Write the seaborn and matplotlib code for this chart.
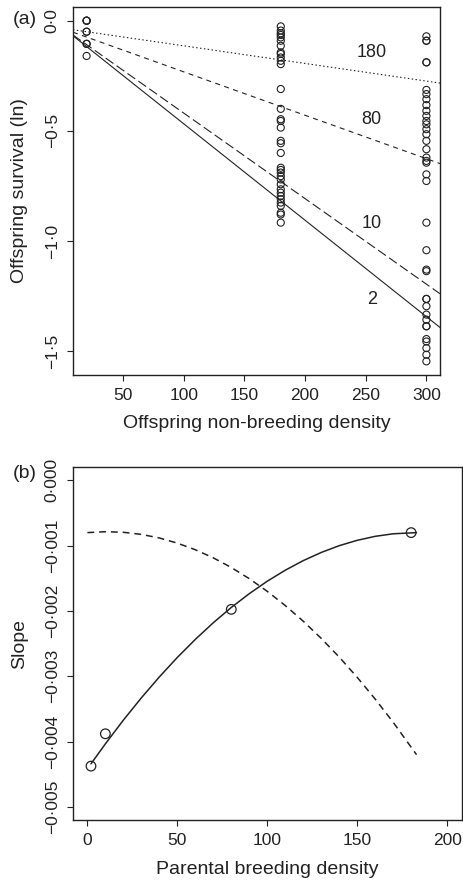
import numpy as np
import pandas as pd
import matplotlib
matplotlib.use("Agg")
import matplotlib.pyplot as plt
import seaborn as sns

# ---------------- data ----------------
# Panel (a): offspring survival (ln) at three offspring non-breeding densities
dens_20_y = [0.0, 0.0, 0.0, -0.05, -0.05, -0.105, -0.105, -0.16]
dens_180_y = [-0.026, -0.045, -0.057, -0.065, -0.076, -0.091, -0.114, -0.144, -0.151,
              -0.167, -0.182, -0.197, -0.31, -0.40, -0.447, -0.455, -0.485, -0.545,
              -0.556, -0.60, -0.667, -0.677, -0.689, -0.705, -0.72, -0.742, -0.765,
              -0.78, -0.795, -0.81, -0.825, -0.84, -0.871, -0.879, -0.916]
dens_300_y = [-0.071, -0.091, -0.091, -0.189, -0.189, -0.314, -0.333, -0.356, -0.383,
              -0.409, -0.432, -0.455, -0.47, -0.492, -0.515, -0.545, -0.583, -0.621,
              -0.636, -0.644, -0.697, -0.727, -0.916, -1.041, -1.129, -1.136, -1.262,
              -1.262, -1.295, -1.333, -1.356, -1.386, -1.386, -1.444, -1.455, -1.485,
              -1.515, -1.545]
densities_a = [20, 180, 300]

# fitted lines for parental breeding densities
line_labels = ["180", "80", "10", "2"]
line_intercepts = [-0.034, -0.035, -0.031, -0.030]
line_slopes = [-0.0008, -0.00197, -0.00388, -0.004375]
label_x = [255, 255, 255, 255]
label_y = [-0.144, -0.447, -0.92, -1.265]

# Panel (b): slope vs parental breeding density
pts_x = [2, 10, 80, 180]
pts_y = [-0.004375, -0.00388, -0.001975, -0.0008]
solid_x = [2, 10, 20, 30, 40, 50, 60, 70, 80, 90, 100, 110, 120, 130, 140, 150, 160, 170, 183]
solid_y = [-0.00434, -0.004034, -0.003671, -0.00333, -0.00301, -0.002711, -0.002435,
           -0.00218, -0.001946, -0.001735, -0.001544, -0.001376, -0.001229, -0.001104,
           -0.0010, -0.000918, -0.000857, -0.000818, -0.0008]
dashed_x = [0, 10, 20, 30, 40, 50, 60, 70, 80, 90, 100, 110, 120, 130, 140, 150, 160, 170, 183]
dashed_y = [-0.0008, -0.000786, -0.000795, -0.000827, -0.000882, -0.000961, -0.001062,
            -0.001186, -0.001334, -0.001505, -0.001699, -0.001916, -0.002156, -0.002419,
            -0.002705, -0.003015, -0.003348, -0.003703, -0.0042]

a_xticks = [50, 100, 150, 200, 250, 300]
a_yticks = [0.0, -0.5, -1.0, -1.5]
a_yticklabels = ["0·0", "−0·5", "−1·0", "−1·5"]
b_xticks = [0, 50, 100, 150, 200]
b_yticks = [0.0, -0.001, -0.002, -0.003, -0.004, -0.005]
b_yticklabels = ["0·000", "−0·001", "−0·002", "−0·003", "−0·004", "−0·005"]

# ---------------- style ----------------
sns.set_theme(style="ticks")
INK = "#222222"
plt.rcParams["font.family"] = ["Liberation Sans", "DejaVu Sans"]
plt.rcParams.update({
    "axes.edgecolor": INK, "axes.linewidth": 1.0,
    "xtick.color": INK, "ytick.color": INK,
    "xtick.labelcolor": INK, "ytick.labelcolor": INK,
    "text.color": INK, "axes.labelcolor": INK,
    "xtick.major.size": 4.5, "ytick.major.size": 4.5,
    "xtick.major.width": 0.8, "ytick.major.width": 0.8,
    "xtick.labelsize": 12.5, "ytick.labelsize": 12.5,
})

W, H = 463, 881
fig = plt.figure(figsize=(W / 100, H / 100), dpi=100)

def rect(l, t, r, b):
    return [l / W, 1 - b / H, (r - l) / W, (b - t) / H]

ax1 = fig.add_axes(rect(73, 7, 440, 375))
ax2 = fig.add_axes(rect(73, 467.3, 461.5, 820))

# ---------------- panel (a) ----------------
df_a = pd.DataFrame({
    "density": [densities_a[0]] * len(dens_20_y) + [densities_a[1]] * len(dens_180_y)
               + [densities_a[2]] * len(dens_300_y),
    "survival": dens_20_y + dens_180_y + dens_300_y,
})
sns.scatterplot(data=df_a, x="density", y="survival", ax=ax1, marker="o", s=26,
                facecolor="none", edgecolor=INK, linewidth=0.8, zorder=3)

styles = [(0, (1.3, 2.2)), (0, (4.5, 4.0)), (0, (8.5, 3.5)), "-"]
for a, b, ls in zip(line_intercepts, line_slopes, styles):
    ax1.axline((0, a), slope=b, color=INK, lw=0.8, linestyle=ls, zorder=2)
for t, x, y in zip(line_labels, label_x, label_y):
    ax1.text(x, y, t, ha="center", va="center", fontsize=13)

ax1.set_xlim(8.8, 311.2)
ax1.set_ylim(-1.607, 0.062)
ax1.set_xticks(a_xticks)
ax1.set_yticks(a_yticks)
ax1.set_yticklabels(a_yticklabels)
ax1.set_xlabel("Offspring non-breeding density", fontsize=14, va="center")
ax1.set_ylabel("Offspring survival (ln)", fontsize=14, va="center")
ax1.xaxis.set_label_coords(0.5, (375 - 424) / 368)
ax1.yaxis.set_label_coords((20 - 73) / 367, 0.5)

# ---------------- panel (b) ----------------
sns.lineplot(x=solid_x, y=solid_y, ax=ax2, color=INK, lw=1.1, sort=False, estimator=None)
sns.lineplot(x=dashed_x, y=dashed_y, ax=ax2, color=INK, lw=1.1, sort=False,
             estimator=None, linestyle=(0, (4.5, 3.2)))
sns.scatterplot(x=pts_x, y=pts_y, ax=ax2, marker="o", s=48, facecolor="none",
                edgecolor=INK, linewidth=0.9, zorder=3)
ax2.set_xlim(-8, 208)
ax2.set_ylim(-0.0052, 0.0002)
ax2.set_xticks(b_xticks)
ax2.set_yticks(b_yticks)
ax2.set_yticklabels(b_yticklabels)
ax2.set_xlabel("Parental breeding density", fontsize=14, va="center")
ax2.set_ylabel("Slope", fontsize=14, va="center")
ax2.xaxis.set_label_coords(0.5, (820 - 870) / 352.7)
ax2.yaxis.set_label_coords((20 - 73) / 388.5, 0.5)

for ax in (ax1, ax2):
    ax.tick_params(axis="y", labelrotation=90, pad=5)
    ax.tick_params(axis="x", pad=5)
    for lab in ax.get_yticklabels():
        lab.set_va("center")
    for s in ax.spines.values():
        s.set_visible(True)

fig.text(13 / W, 1 - 20 / H, "(a)", fontsize=14, ha="left", va="center")
fig.text(13 / W, 1 - 473.5 / H, "(b)", fontsize=14, ha="left", va="center")

fig.savefig("out.png", dpi=100)
